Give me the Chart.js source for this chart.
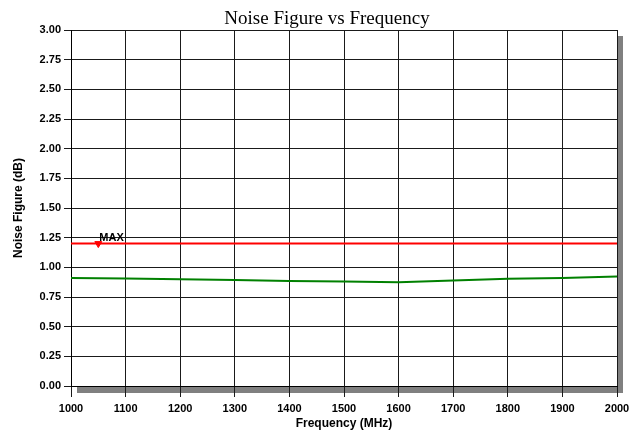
<!DOCTYPE html>
<html>
<head>
<meta charset="utf-8">
<script src="https://cdn.jsdelivr.net/npm/chart.js@4"></script>
<style>
  html, body { margin: 0; padding: 0; background: #fff; }
  #wrap { width: 630px; height: 433px; }
</style>
</head>
<body>
<div id="wrap"><canvas id="nf"></canvas></div>
<script>
const frequencies = [1000, 1100, 1200, 1300, 1400, 1500, 1600, 1700, 1800, 1900, 2000];
const noiseFigure = [0.911, 0.905, 0.899, 0.894, 0.885, 0.880, 0.874, 0.889, 0.903, 0.911, 0.922];
const maxLimit = 1.20;
const markerFreq = 1050;
const markerLabel = 'MAX';
const chartTitle = 'Noise Figure vs Frequency';

const tickFont = { family: 'Liberation Sans', size: 11, weight: 'bold' };
const axisTitleFont = { family: 'Liberation Sans', size: 12, weight: 'bold' };

// grey drop shadow behind the plot frame, drawn before the grid
const frameShadow = {
    id: 'frameShadow',
    beforeDraw(chart) {
        const { ctx, chartArea: a } = chart;
        ctx.save();
        ctx.fillStyle = '#808080';
        ctx.fillRect(a.right, a.top + 6, 6, a.bottom - a.top + 1);
        ctx.fillRect(a.left + 6, a.bottom, a.right - a.left, 7);
        ctx.restore();
    }
};

const extras = {
    id: 'extras',
    afterDraw(chart) {
        const { ctx } = chart;
        ctx.save();
        ctx.fillStyle = '#000';
        ctx.font = '19px "Liberation Serif"';
        ctx.textAlign = 'center';
        ctx.textBaseline = 'alphabetic';
        ctx.fillText(chartTitle, 327, 24);

        const pt = chart.getDatasetMeta(2).data[0];
        ctx.font = 'bold 11px "Liberation Sans"';
        ctx.textAlign = 'left';
        ctx.fillText(markerLabel, pt.x + 1, pt.y - 3);
        ctx.restore();
    }
};

new Chart(document.getElementById('nf'), {
    type: 'line',
    data: {
        datasets: [{
            data: frequencies.map((f, i) => ({ x: f, y: noiseFigure[i] })),
            borderColor: '#008000',
            borderWidth: 2,
            pointRadius: 0,
            tension: 0
        }, {
            data: [{ x: frequencies[0], y: maxLimit }, { x: frequencies[frequencies.length - 1], y: maxLimit }],
            borderColor: '#ff0000',
            borderWidth: 2,
            pointRadius: 0
        }, {
            data: [{ x: markerFreq, y: maxLimit }],
            showLine: false,
            pointStyle: 'triangle',
            rotation: 180,
            pointRadius: 4,
            backgroundColor: '#ff0000',
            borderColor: '#ff0000'
        }]
    },
    options: {
        responsive: true,
        maintainAspectRatio: false,
        animation: false,
        layout: { padding: { top: 30, right: 13, left: 0, bottom: 0 } },
        plugins: {
            legend: { display: false },
            tooltip: { enabled: false },
            title: { display: false }
        },
        scales: {
            x: {
                type: 'linear',
                min: 1000,
                max: 2000,
                afterFit(scale) {
                    scale.height = 47;
                    scale.paddingLeft = 0;
                    scale.paddingRight = 0;
                },
                grid: { color: '#1a1a1a', lineWidth: 1, tickLength: 11, tickColor: '#1a1a1a' },
                border: { color: '#000' },
                ticks: {
                    stepSize: 100,
                    color: '#000',
                    font: tickFont,
                    padding: 5,
                    maxRotation: 0,
                    callback: v => String(v)
                },
                title: {
                    display: true,
                    text: 'Frequency (MHz)',
                    color: '#000',
                    font: axisTitleFont,
                    padding: { top: 0, bottom: 2 }
                }
            },
            y: {
                min: 0,
                max: 3,
                afterFit(scale) {
                    scale.width = 71;
                },
                grid: { color: '#1a1a1a', lineWidth: 1, tickLength: 7, tickColor: '#1a1a1a' },
                border: { color: '#000' },
                ticks: {
                    stepSize: 0.25,
                    color: '#000',
                    font: tickFont,
                    padding: 3,
                    callback: v => v.toFixed(2)
                },
                title: {
                    display: true,
                    text: 'Noise Figure (dB)',
                    color: '#000',
                    font: axisTitleFont,
                    padding: { top: 11, bottom: 0 }
                }
            }
        }
    },
    plugins: [frameShadow, extras]
});
</script>
</body>
</html>
